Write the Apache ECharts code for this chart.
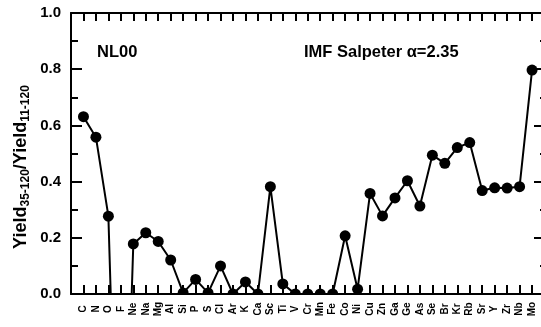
<!DOCTYPE html>
<html><head><meta charset="utf-8">
<script src="https://cdn.jsdelivr.net/npm/echarts@6/dist/echarts.min.js"></script>
<style>html,body{margin:0;padding:0;background:#fff}#c{width:541px;height:327px}</style>
</head><body><div id="c"></div>
<script>
var elements = ['C','N','O','F','Ne','Na','Mg','Al','Si','P','S','Cl','Ar','K','Ca','Sc','Ti','V','Cr','Mn','Fe','Co','Ni','Cu','Zn','Ga','Ge','As','Se','Br','Kr','Rb','Sr','Y','Zr','Nb','Mo'];
var yieldRatio = [0.631,0.558,0.277,-1.2,0.178,0.218,0.187,0.121,0.004,0.052,0.004,0.100,0.0,0.043,0.0,0.382,0.036,0.0,0.0,0.0,0.0,0.207,0.017,0.358,0.278,0.342,0.403,0.313,0.494,0.465,0.521,0.539,0.368,0.378,0.377,0.382,0.797];
var yTicks = [0, 0.2, 0.4, 0.6, 0.8, 1.0];

var FONT = '"Liberation Sans", Arial, sans-serif';
var chart = echarts.init(document.getElementById('c'));
var pts = elements.map(function(e,i){ return [i, yieldRatio[i]]; });
var axisLine = {show:true, onZero:false, lineStyle:{color:'#000', width:2}};
chart.setOption({
  animation:false,
  grid:{left:71, top:13, width:476, height:281, show:false, containLabel:false, outerBoundsMode:'none'},
  xAxis:[{
    type:'value', min:-1, max:37.2, interval:1, position:'bottom',
    axisLine:axisLine,
    axisTick:{show:true, inside:true, length:9, lineStyle:{color:'#000', width:2}},
    splitLine:{show:false},
    axisLabel:{show:true, rotate:90, align:'center', verticalAlign:'middle', margin:15, fontFamily:FONT, fontWeight:'bold', fontSize:10, color:'#000',
      formatter:function(v){ return (v>=0 && v<elements.length) ? elements[v] : ''; }}
  },{
    type:'value', min:-1, max:37.2, interval:1, position:'top',
    axisLine:axisLine,
    axisTick:{show:true, inside:true, length:8, lineStyle:{color:'#000', width:2}},
    splitLine:{show:false}, axisLabel:{show:false}
  }],
  yAxis:[{
    type:'value', min:0, max:1, interval:0.2, position:'left',
    axisLine:axisLine,
    axisTick:{show:true, inside:true, length:11, lineStyle:{color:'#000', width:2}},
    minorTick:{show:true, splitNumber:2, length:7, lineStyle:{color:'#000', width:2}},
    splitLine:{show:false},
    axisLabel:{margin:10, fontFamily:FONT, fontWeight:'bold', fontSize:15, color:'#000',
      formatter:function(v){ return v.toFixed(1); }}
  },{
    type:'value', min:0, max:1, interval:0.2, position:'right',
    axisLine:axisLine,
    axisTick:{show:true, inside:true, length:13, lineStyle:{color:'#000', width:2}},
    minorTick:{show:true, splitNumber:2, length:7, lineStyle:{color:'#000', width:2}},
    splitLine:{show:false}, axisLabel:{show:false}
  }],
  series:[{
    type:'line', data:pts, clip:true,
    symbol:'circle', symbolSize:11, showAllSymbol:true,
    itemStyle:{color:'#000'},
    lineStyle:{color:'#000', width:2}
  }],
  graphic:[
    {type:'rect', z:100, shape:{x:72, y:295, width:470, height:5}, style:{fill:'#fff'}},
    {type:'text', left:97, top:44, style:{text:'NL00', font:'bold 16.5px '+FONT, fill:'#000'}},
    {type:'text', left:304, top:44, style:{text:'IMF Salpeter \u03b1=2.35', font:'bold 16.5px '+FONT, fill:'#000'}},
    {type:'text', x:22, y:167, rotation:Math.PI/2, style:{
      text:'{a|Yield}{b|35-120}{a|/Yield}{b|11-120}',
      align:'center', verticalAlign:'middle',
      rich:{
        a:{font:'bold 18px '+FONT, fill:'#000', verticalAlign:'top', lineHeight:20},
        b:{font:'bold 12px '+FONT, fill:'#000', verticalAlign:'bottom', lineHeight:12, padding:[12,0,0,0]}
      }}}
  ]
});
</script></body></html>
